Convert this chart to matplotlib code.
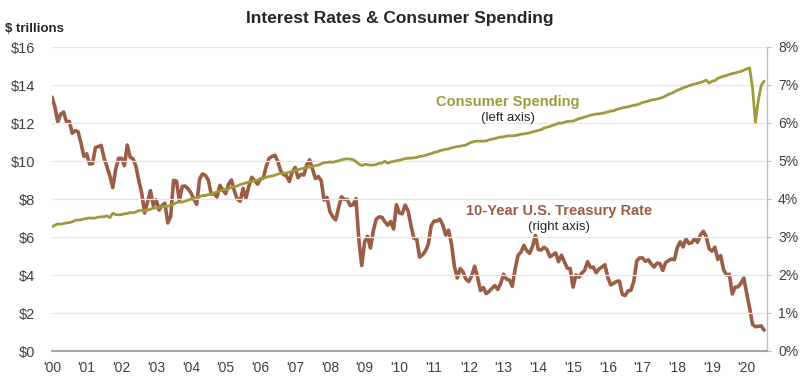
import matplotlib
matplotlib.use("Agg")
import matplotlib.pyplot as plt
import numpy as np

plt.rcParams['font.family'] = ['Liberation Sans', 'DejaVu Sans']

# Monthly, Jan 2000 - Jul 2020
year_labels = ["'00", "'01", "'02", "'03", "'04", "'05", "'06", "'07", "'08", "'09", "'10",
               "'11", "'12", "'13", "'14", "'15", "'16", "'17", "'18", "'19", "'20"]

# 10-Year U.S. Treasury Rate (%), right axis
treasury_rate = [
    6.68, 6.42, 6.03, 6.23, 6.29, 6.03, 6.04, 5.73, 5.80, 5.77, 5.48, 5.12,
    5.19, 4.92, 4.93, 5.35, 5.38, 5.41, 5.07, 4.85, 4.60, 4.30, 4.78, 5.07,
    5.07, 4.88, 5.42, 5.10, 5.06, 4.86, 4.48, 4.15, 3.63, 3.93, 4.22, 3.83,
    3.98, 3.71, 3.83, 3.89, 3.37, 3.54, 4.49, 4.47, 3.96, 4.33, 4.34, 4.27,
    4.16, 3.99, 3.86, 4.53, 4.66, 4.62, 4.50, 4.13, 4.14, 4.05, 4.36, 4.24,
    4.14, 4.39, 4.50, 4.21, 4.00, 3.94, 4.28, 4.02, 4.34, 4.57, 4.49, 4.39,
    4.53, 4.55, 4.86, 5.07, 5.12, 5.15, 4.99, 4.74, 4.64, 4.61, 4.46, 4.71,
    4.83, 4.56, 4.65, 4.63, 4.90, 5.03, 4.78, 4.54, 4.59, 4.48, 3.97, 4.04,
    3.67, 3.53, 3.45, 3.77, 4.06, 3.99, 3.99, 3.83, 3.85, 4.01, 2.93, 2.25,
    2.87, 3.02, 2.71, 3.16, 3.47, 3.53, 3.52, 3.40, 3.31, 3.41, 3.21, 3.85,
    3.63, 3.61, 3.84, 3.69, 3.31, 2.97, 2.94, 2.47, 2.53, 2.63, 2.81, 3.30,
    3.42, 3.42, 3.47, 3.32, 3.05, 3.18, 2.82, 2.23, 1.92, 2.17, 2.08, 1.89,
    1.83, 1.98, 2.23, 1.95, 1.59, 1.67, 1.51, 1.57, 1.65, 1.72, 1.62, 1.78,
    2.02, 1.89, 1.87, 1.70, 2.16, 2.52, 2.60, 2.78, 2.64, 2.57, 2.75, 3.04,
    2.67, 2.66, 2.73, 2.67, 2.48, 2.53, 2.58, 2.35, 2.52, 2.35, 2.18, 2.17,
    1.68, 2.00, 1.94, 2.05, 2.12, 2.35, 2.20, 2.21, 2.06, 2.16, 2.21, 2.27,
    1.94, 1.74, 1.78, 1.83, 1.84, 1.49, 1.46, 1.58, 1.60, 1.84, 2.37, 2.45,
    2.45, 2.36, 2.40, 2.29, 2.21, 2.31, 2.30, 2.12, 2.33, 2.38, 2.42, 2.40,
    2.72, 2.87, 2.74, 2.95, 2.83, 2.85, 2.96, 2.86, 3.05, 3.15, 3.01, 2.69,
    2.63, 2.73, 2.41, 2.51, 2.14, 2.00, 2.02, 1.50, 1.68, 1.69, 1.78, 1.92,
    1.51, 1.13, 0.70, 0.64, 0.65, 0.66, 0.55,
]

# Consumer Spending ($ trillions), left axis
consumer_spending = [
    6.54, 6.62, 6.69, 6.67, 6.71, 6.74, 6.76, 6.80, 6.88, 6.89, 6.90, 6.95,
    6.98, 7.00, 6.99, 7.00, 7.05, 7.06, 7.07, 7.11, 7.02, 7.25, 7.18, 7.17,
    7.18, 7.22, 7.23, 7.29, 7.27, 7.32, 7.39, 7.40, 7.39, 7.42, 7.46, 7.52,
    7.53, 7.54, 7.59, 7.61, 7.62, 7.67, 7.73, 7.81, 7.83, 7.84, 7.88, 7.94,
    7.99, 8.04, 8.08, 8.12, 8.19, 8.18, 8.23, 8.26, 8.32, 8.38, 8.42, 8.49,
    8.50, 8.55, 8.61, 8.67, 8.68, 8.76, 8.80, 8.85, 8.89, 8.93, 8.96, 8.99,
    9.08, 9.10, 9.14, 9.19, 9.21, 9.25, 9.31, 9.34, 9.35, 9.37, 9.41, 9.47,
    9.51, 9.54, 9.59, 9.62, 9.66, 9.68, 9.71, 9.76, 9.78, 9.85, 9.91, 9.92,
    9.95, 9.93, 9.98, 10.01, 10.06, 10.10, 10.11, 10.10, 10.07, 9.97, 9.84, 9.76,
    9.82, 9.81, 9.78, 9.79, 9.81, 9.88, 9.89, 9.99, 9.88, 9.95, 9.98, 10.02,
    10.04, 10.08, 10.13, 10.15, 10.15, 10.17, 10.19, 10.24, 10.26, 10.30, 10.35, 10.39,
    10.45, 10.48, 10.54, 10.58, 10.62, 10.63, 10.70, 10.73, 10.76, 10.78, 10.81, 10.84,
    10.93, 10.99, 11.03, 11.05, 11.04, 11.05, 11.06, 11.11, 11.15, 11.18, 11.22, 11.26,
    11.27, 11.31, 11.33, 11.32, 11.34, 11.37, 11.41, 11.43, 11.45, 11.48, 11.53, 11.57,
    11.61, 11.65, 11.74, 11.78, 11.82, 11.88, 11.92, 11.99, 11.99, 12.04, 12.08, 12.10,
    12.10, 12.16, 12.23, 12.26, 12.31, 12.36, 12.41, 12.44, 12.47, 12.48, 12.51, 12.54,
    12.58, 12.63, 12.64, 12.71, 12.75, 12.79, 12.83, 12.85, 12.90, 12.93, 12.96, 13.01,
    13.08, 13.11, 13.15, 13.21, 13.23, 13.26, 13.30, 13.35, 13.42, 13.51, 13.56, 13.64,
    13.72, 13.78, 13.85, 13.90, 13.96, 14.01, 14.05, 14.09, 14.13, 14.19, 14.26, 14.10,
    14.20, 14.23, 14.35, 14.41, 14.46, 14.50, 14.56, 14.60, 14.63, 14.68, 14.71, 14.78,
    14.85, 14.90, 13.85, 12.04, 13.20, 13.98, 14.20,
]

left_ticks = [0, 2, 4, 6, 8, 10, 12, 14, 16]
right_ticks = [0, 1, 2, 3, 4, 5, 6, 7, 8]

spend_color = '#9E9A3E'
rate_color = '#9C5D46'
text_color = '#404040'

months = np.arange(len(treasury_rate))

fig = plt.figure(figsize=(8, 3.84), dpi=100)
ax = fig.add_axes([52/800, 1-351/384, (767-52)/800, (351-47)/384])
ax2 = ax.twinx()

ax.set_ylim(0, 16)
ax2.set_ylim(0, 8)
ax.set_xlim(0, 247)

for v in left_ticks[1:]:
    ax.axhline(v, color='#E6E6E6', lw=0.9, zorder=0)

ax.plot(months, consumer_spending, color=spend_color, lw=2.0, zorder=3,
        solid_joinstyle='round', solid_capstyle='round')
ax2.plot(months, treasury_rate, color=rate_color, lw=2.6, zorder=3,
         solid_joinstyle='round', solid_capstyle='round')

ax.set_yticks(left_ticks)
ax.set_yticklabels([f'${v}' for v in left_ticks], fontsize=10.5, color=text_color)
ax2.set_yticks(right_ticks)
ax2.set_yticklabels([f'{v}%' for v in right_ticks], fontsize=10, color=text_color)

ax.set_xticks(np.arange(0, len(year_labels) * 12, 12))
ax.set_xticklabels(year_labels, fontsize=10, color=text_color)

ax.tick_params(axis='y', length=0, pad=12)
ax.tick_params(axis='x', length=0, pad=7)
ax2.tick_params(axis='y', length=3, width=0.8, color='#BFBFBF', pad=5, direction='out')

for a in (ax, ax2):
    a.spines['top'].set_visible(False)
    a.spines['left'].set_visible(False)
    a.spines['right'].set_visible(False)
    a.spines['bottom'].set_visible(False)
ax2.spines['right'].set_visible(True)
ax2.spines['right'].set_color('#BFBFBF')
ax2.spines['right'].set_linewidth(1.0)
ax.spines['bottom'].set_visible(True)
ax.spines['bottom'].set_color('#A6A6A6')
ax.spines['bottom'].set_linewidth(1.5)
ax.set_zorder(ax2.get_zorder() + 1)
ax.patch.set_visible(False)

fig.text(0.5, 1-19/384, 'Interest Rates & Consumer Spending', ha='center', va='center',
         fontsize=12.5, fontweight='bold', color='#262626')
fig.text(5/800, 1-28.5/384, '$ trillions', ha='left', va='center',
         fontsize=9.5, fontweight='bold', color='#262626')

fig.text(508/800, 1-102/384, 'Consumer Spending', ha='center', va='center',
         fontsize=10.5, fontweight='bold', color=spend_color)
fig.text(508/800, 1-118/384, '(left axis)', ha='center', va='center',
         fontsize=9.5, color='#262626')
fig.text(559/800, 1-211/384, '10-Year U.S. Treasury Rate', ha='center', va='center',
         fontsize=10.5, fontweight='bold', color=rate_color)
fig.text(559/800, 1-227/384, '(right axis)', ha='center', va='center',
         fontsize=9.5, color='#262626')

fig.savefig('out.png', dpi=100)
